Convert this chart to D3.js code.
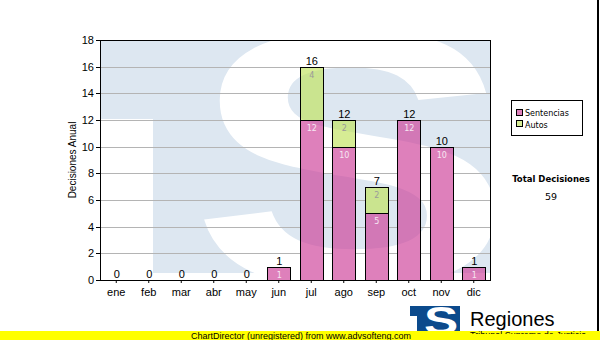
<!DOCTYPE html>
<html>
<head>
<meta charset="utf-8">
<script src="https://cdn.jsdelivr.net/npm/d3@7"></script>
<style>
body { margin:0; background:#fff; }
svg text { font-family: "Liberation Sans", Arial, sans-serif; }
</style>
</head>
<body>
<div id="chart"></div>
<script>
var meses = ["ene","feb","mar","abr","may","jun","jul","ago","sep","oct","nov","dic"];
var sentencias = [0,0,0,0,0,1,12,10,5,12,10,1];
var autos = [0,0,0,0,0,0,4,2,2,0,0,0];
var yTicks = [0,2,4,6,8,10,12,14,16,18];
var series = ["Sentencias","Autos"];
var colores = ["rgb(205,60,150)","rgb(192,226,91)"];
var coloresLeyenda = ["#de80bb","#d6ec94"];
var coloresTexto = ["#f6e6f2","#9a9a9a"];

var plot = {left:100, top:40, width:390, height:240};

var svg = d3.select('#chart').append('svg')
			.attr('width',600).attr('height',340);

var x = d3.scaleBand()
		  .domain(meses)
		  .range([plot.left, plot.left+plot.width])
		  .paddingInner(0.28)
		  .paddingOuter(0.14);
var y = d3.scaleLinear()
		  .domain([0,18])
		  .rangeRound([plot.top+plot.height, plot.top]);

var tabla = meses.map(function(m,i) {
	return {mes:m, Sentencias:sentencias[i], Autos:autos[i], total:sentencias[i]+autos[i]};
});
var pilas = d3.stack().keys(series)(tabla);

var defs = svg.append('defs');
defs.append('clipPath').attr('id','plotClip')
	.append('rect')
	.attr('x',plot.left).attr('y',plot.top)
	.attr('width',plot.width).attr('height',plot.height);

// marca de agua (logo TS)
var marca = svg.append('g').attr('clip-path','url(#plotClip)');
marca.append('rect')
	 .attr('x',100).attr('y',40).attr('width',390).attr('height',233)
	 .attr('fill','#dde7f1');
marca.append('rect')
	 .attr('x',100).attr('y',119).attr('width',53).attr('height',161)
	 .attr('fill','#fff');
marca.append('text')
	 .attr('transform','translate(352,285) scale(1.33,1)')
	 .attr('text-anchor','middle')
	 .style('font-size','365px')
	 .style('font-weight','bold')
	 .attr('fill','#fff')
	 .text('S');

// mascara para que la rejilla no se vea detras de las barras
var mask = defs.append('mask').attr('id','gridMask');
mask.append('rect').attr('x',0).attr('y',0).attr('width',600).attr('height',340).attr('fill','#fff');
mask.selectAll('rect.b')
	.data(tabla.filter(function(d){ return d.total>0; }))
	.enter().append('rect')
	.attr('x',function(d){ return Math.round(x(d.mes)); })
	.attr('y',function(d){ return y(d.total); })
	.attr('width',Math.round(x.bandwidth())+1)
	.attr('height',function(d){ return y(0)-y(d.total)+1; })
	.attr('fill','#000');

svg.append('g')
   .attr('mask','url(#gridMask)')
   .selectAll('line')
   .data(yTicks.slice(1,-1))
   .enter().append('line')
   .attr('x1',plot.left).attr('x2',plot.left+plot.width)
   .attr('y1',function(d){ return y(d)+0.5; })
   .attr('y2',function(d){ return y(d)+0.5; })
   .attr('stroke','#b4b4b4');

// barras apiladas
var capas = svg.selectAll('g.capa')
			   .data(pilas)
			   .enter().append('g')
			   .attr('class','capa');
capas.selectAll('rect')
	 .data(function(s,i){ return s.map(function(d){ d.k=i; return d; }).filter(function(d){ return d[1]>d[0]; }); })
	 .enter().append('rect')
	 .attr('x',function(d){ return Math.round(x(d.data.mes))+0.5; })
	 .attr('y',function(d){ return y(d[1])+0.5; })
	 .attr('width',Math.round(x.bandwidth()))
	 .attr('height',function(d){ return y(d[0])-y(d[1]); })
	 .attr('fill',function(d){ return colores[d.k]; })
	 .attr('fill-opacity',0.65)
	 .attr('stroke','#000');
capas.selectAll('text')
	 .data(function(s,i){ return s.map(function(d){ d.k=i; return d; }).filter(function(d){ return d[1]>d[0]; }); })
	 .enter().append('text')
	 .attr('x',function(d){ return x(d.data.mes)+x.bandwidth()/2+0.5; })
	 .attr('y',function(d){ return y(d[1])+10.5; })
	 .attr('text-anchor','middle')
	 .style('font-family','"DejaVu Sans", Verdana, sans-serif')
	 .style('font-size','8px')
	 .attr('fill',function(d){ return coloresTexto[d.k]; })
	 .text(function(d){ return d[1]-d[0]; });

// totales encima
svg.append('g').selectAll('text')
   .data(tabla)
   .enter().append('text')
   .attr('x',function(d){ return x(d.mes)+x.bandwidth()/2+0.5; })
   .attr('y',function(d){ return y(d.total)-2; })
   .attr('text-anchor','middle')
   .style('font-size','11px')
   .attr('fill','#000')
   .text(function(d){ return d.total; });

// ejes
var ejeY = svg.append('g')
			  .attr('transform','translate('+plot.left+',0)')
			  .call(d3.axisLeft(y).tickValues(yTicks).tickSize(4).tickPadding(2).tickSizeOuter(0));
var ejeX = svg.append('g')
			  .attr('transform','translate(0,'+(plot.top+plot.height)+')')
			  .call(d3.axisBottom(x).tickSize(3).tickPadding(5).tickSizeOuter(0));
[ejeY,ejeX].forEach(function(g) {
	g.select('.domain').remove();
	g.selectAll('line').attr('stroke','#000');
	g.selectAll('text').style('font-family','"Liberation Sans", Arial, sans-serif').style('font-size','11px').attr('fill','#000');
});

svg.append('rect')
   .attr('x',plot.left+0.5).attr('y',plot.top+0.5)
   .attr('width',plot.width).attr('height',plot.height)
   .attr('fill','none').attr('stroke','#000');

svg.append('text')
   .attr('transform','translate(76,160) rotate(-90)')
   .attr('text-anchor','middle')
   .style('font-size','10px')
   .text('Decisiones Anual');

// leyenda
var leyenda = svg.append('g');
leyenda.append('rect')
	   .attr('x',511.5).attr('y',100.5).attr('width',71).attr('height',35)
	   .attr('fill','#fff').attr('stroke','#000');
series.forEach(function(s,i) {
	leyenda.append('rect')
		   .attr('x',516.5).attr('y',109.5+i*11).attr('width',6).attr('height',6)
		   .attr('fill',coloresLeyenda[i]).attr('stroke','#000');
	leyenda.append('text')
		   .attr('x',525).attr('y',116+i*11.5)
		   .style('font-family','"DejaVu Sans", Verdana, sans-serif')
		   .style('font-size','8px')
		   .text(s);
});

svg.append('text')
   .attr('x',551).attr('y',182)
   .attr('text-anchor','middle')
   .style('font-family','"DejaVu Sans", Verdana, sans-serif')
   .style('font-size','8.5px').style('font-weight','bold')
   .text('Total Decisiones');
svg.append('text')
   .attr('x',551).attr('y',200)
   .attr('text-anchor','middle')
   .style('font-family','"DejaVu Sans", Verdana, sans-serif')
   .style('font-size','9.5px')
   .text(d3.sum(tabla,function(d){ return d.total; }));

svg.append('line')
   .attr('x1',598).attr('x2',598).attr('y1',0).attr('y2',331)
   .attr('stroke','#000').attr('stroke-width',2);

// logo
svg.append('rect').attr('x',410).attr('y',306).attr('width',50).attr('height',27).attr('fill','#0b4a8c');
svg.append('rect').attr('x',410).attr('y',316).attr('width',7).attr('height',17).attr('fill','#fff');
svg.append('text')
   .attr('transform','translate(441,334) scale(1.35,1)')
   .attr('text-anchor','middle')
   .style('font-size','38px').style('font-weight','bold')
   .attr('fill','#fff')
   .text('S');
svg.append('text')
   .attr('x',470).attr('y',326)
   .style('font-size','20px')
   .text('Regiones');

svg.append('rect').attr('x',0).attr('y',331).attr('width',600).attr('height',9).attr('fill','#ffff00');
svg.append('text')
   .attr('x',301).attr('y',339)
   .attr('text-anchor','middle')
   .style('font-size','9px')
   .text('ChartDirector (unregistered) from www.advsofteng.com');
defs.append('clipPath').attr('id','subClip')
	.append('rect').attr('x',460).attr('y',326).attr('width',140).attr('height',8);
svg.append('text')
   .attr('x',470).attr('y',338)
   .attr('clip-path','url(#subClip)')
   .style('font-size','9px')
   .text('Tribunal Supremo de Justicia');
</script>
</body>
</html>
